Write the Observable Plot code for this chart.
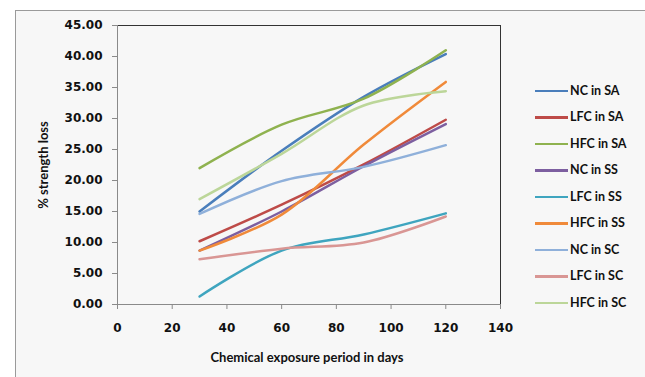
<!DOCTYPE html>
<html>
<head>
<meta charset="utf-8">
<script src="https://cdn.jsdelivr.net/npm/d3@7"></script>
<script src="https://cdn.jsdelivr.net/npm/@observablehq/plot@0.6"></script>
<style>
  html, body { margin: 0; padding: 0; background: #ffffff; }
  #wrap { position: relative; width: 645px; height: 377px; overflow: hidden; }
  #box { position: absolute; left: 15px; top: 10px; width: 660px; height: 400px; background: #f7f7f7; border-left: 1px solid #9a9a9a; border-top: 1px solid #9a9a9a; }
  #chart { position: absolute; left: 0; top: 0; }
  .ttl { position: absolute; font-family: Lato, sans-serif; font-weight: bold; font-size: 13px; color: #111; white-space: nowrap; }
  #xt { left: 307px; top: 357px; transform: translate(-50%, -50%); }
  #yt { left: 43px; top: 165px; transform: translate(-50%, -50%) rotate(-90deg); }
  #legend { position: absolute; left: 535px; top: 0; font-family: Lato, sans-serif; font-weight: bold; font-size: 12.5px; color: #111; }
  .li { position: absolute; left: 0; white-space: nowrap; height: 16px; line-height: 16px; }
  .sw { position: absolute; left: 0; top: 7px; width: 33px; height: 2.5px; }
  .lb { position: absolute; left: 35px; top: 0; }
</style>
</head>
<body>
<div id="wrap">
  <div id="box"></div>
  <div id="chart"></div>
  <div class="ttl" id="xt">Chemical exposure period in days</div>
  <div class="ttl" id="yt">% strength loss</div>
  <div id="legend"></div>
</div>
<script>
const days = [30, 60, 90, 120];
const seriesNames = ["NC in SA", "LFC in SA", "HFC in SA", "NC in SS", "LFC in SS", "HFC in SS", "NC in SC", "LFC in SC", "HFC in SC"];
const seriesColors = ["#4a7ebb", "#be4b48", "#8fb24f", "#7d5fa0", "#3fa5bf", "#f08a3a", "#8fb0da", "#d99694", "#bcd699"];
const ncSA  = [15.0, 24.8, 33.5, 40.4];
const lfcSA = [10.2, 16.1, 22.6, 29.8];
const hfcSA = [22.0, 29.0, 33.2, 41.0];
const ncSS  = [8.7, 15.0, 22.3, 29.1];
const lfcSS = [1.3, 8.7, 11.3, 14.7];
const hfcSS = [8.7, 14.5, 25.8, 35.9];
const ncSC  = [14.6, 19.9, 22.2, 25.7];
const lfcSC = [7.3, 9.0, 10.0, 14.2];
const hfcSC = [17.0, 24.3, 32.1, 34.4];
const yTicks = [0, 5, 10, 15, 20, 25, 30, 35, 40, 45];
const xTicks = [0, 20, 40, 60, 80, 100, 120, 140];

const allValues = [ncSA, lfcSA, hfcSA, ncSS, lfcSS, hfcSS, ncSC, lfcSC, hfcSC];
const data = [];
allValues.forEach((vals, i) => {
  vals.forEach((v, j) => data.push({series: seriesNames[i], day: days[j], value: v}));
});

const chart = Plot.plot({
  width: 645,
  height: 377,
  marginLeft: 117,
  marginRight: 145,
  marginTop: 25,
  marginBottom: 73,
  style: { background: "transparent", fontFamily: "'DejaVu Sans', sans-serif", fontSize: "12px", fontWeight: "bold", color: "#111" },
  x: { domain: [0, 140] },
  y: { domain: [0, 45] },
  color: { domain: seriesNames, range: seriesColors },
  marks: [
    Plot.frame({ stroke: "#333", strokeWidth: 1 }),
    Plot.ruleX([0], { stroke: "#8a8a8a" }),
    Plot.ruleY([0], { stroke: "#8a8a8a" }),
    Plot.axisY({ ticks: yTicks, tickFormat: d => d.toFixed(2), tickSize: 5, tickPadding: 10, stroke: "#8a8a8a", label: null }),
    Plot.axisX({ ticks: xTicks, tickFormat: d => String(d), tickSize: 5, tickPadding: 14, stroke: "#8a8a8a", label: null }),
    Plot.line(data, { x: "day", y: "value", z: "series", stroke: "series", strokeWidth: 2.5, curve: "catmull-rom" })
  ]
});
document.getElementById("chart").appendChild(chart);

const legend = document.getElementById("legend");
seriesNames.forEach((name, i) => {
  const row = document.createElement("div");
  row.className = "li";
  row.style.top = (90.7 + i * 26.5 - 8) + "px";
  const sw = document.createElement("div");
  sw.className = "sw";
  sw.style.background = seriesColors[i];
  const lb = document.createElement("div");
  lb.className = "lb";
  lb.textContent = name;
  row.appendChild(sw);
  row.appendChild(lb);
  legend.appendChild(row);
});
</script>
</body>
</html>
